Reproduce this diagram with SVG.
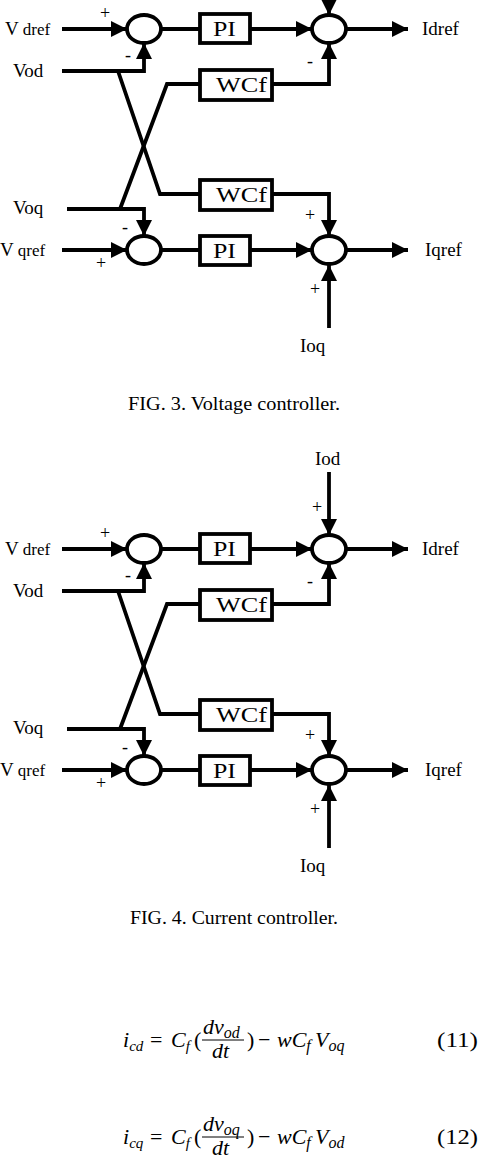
<svg xmlns="http://www.w3.org/2000/svg" width="488" height="1160" viewBox="0 0 488 1160">
<style>
.ln{fill:none;stroke:#000;stroke-width:3.8;stroke-linejoin:miter}
.ar{marker-end:url(#ah)}
.sum{fill:#fff;stroke:#000;stroke-width:3.8}
.box{fill:#fff;stroke:#000;stroke-width:3.8}
.lb{font-family:"Liberation Serif",serif;font-size:19px;fill:#000}
.bt{font-family:"Liberation Serif",serif;font-size:21px;fill:#000}
.sg{font-family:"Liberation Serif",serif;font-size:18px;fill:#000;text-anchor:middle}
.cap{font-family:"Liberation Serif",serif;font-size:18px;fill:#000}
.eq{font-family:"Liberation Serif",serif;font-size:22px;fill:#000}
.it{font-style:italic}
</style>
<defs>
<marker id="ah" markerUnits="userSpaceOnUse" markerWidth="16" markerHeight="16" refX="16" refY="8" orient="auto">
<path d="M0,0 L16,8 L0,16 z" fill="#000"/>
</marker>
</defs>

<!-- FIG 3 -->
<g id="fig3">
<g id="fig3-connectors">
<path class="ln ar" d="M62,29 H127"/>
<path class="ln" d="M161,29 H200"/>
<path class="ln ar" d="M250,29 H312"/>
<path class="ln ar" d="M346,29 H408"/>
<path class="ln ar" d="M329,-50 V15"/>
<path class="ln ar" d="M62,71 H144 V43"/>
<path class="ln" d="M118,71 L160,194 H200"/>
<path class="ln" d="M120,209 L167,84 H200"/>
<path class="ln ar" d="M272,84 H329 V43"/>
<path class="ln ar" d="M272,194 H329 V236"/>
<path class="ln ar" d="M67,209 H144 V236"/>
<path class="ln ar" d="M62,250 H127"/>
<path class="ln" d="M161,250 H200"/>
<path class="ln ar" d="M250,250 H312"/>
<path class="ln ar" d="M346,250 H408"/>
<path class="ln ar" d="M329,328 V265"/>
</g>
<g id="fig3-sum1d"><ellipse class="sum" cx="144" cy="29" rx="17" ry="14"/></g>
<g id="fig3-pid"><rect class="box" x="200" y="14" width="50" height="29"/><text class="bt" x="213" y="36" textLength="23" lengthAdjust="spacingAndGlyphs">PI</text></g>
<g id="fig3-sum2d"><ellipse class="sum" cx="329" cy="29" rx="17" ry="14"/></g>
<g id="fig3-wcf1"><rect class="box" x="200" y="70" width="72" height="30"/><text class="bt" x="216" y="92" textLength="51" lengthAdjust="spacingAndGlyphs">WCf</text></g>
<g id="fig3-wcf2"><rect class="box" x="200" y="180" width="72" height="30"/><text class="bt" x="216" y="202" textLength="51" lengthAdjust="spacingAndGlyphs">WCf</text></g>
<g id="fig3-sum1q"><ellipse class="sum" cx="144" cy="250" rx="17" ry="14"/></g>
<g id="fig3-piq"><rect class="box" x="200" y="236" width="50" height="29"/><text class="bt" x="213" y="258" textLength="23" lengthAdjust="spacingAndGlyphs">PI</text></g>
<g id="fig3-sum2q"><ellipse class="sum" cx="329" cy="250" rx="17" ry="14"/></g>
<g id="fig3-labels">
<text class="lb" x="5" y="35">V<tspan font-size="17" dx="4">dref</tspan></text>
<text class="lb" x="13" y="77">Vod</text>
<text class="lb" x="13" y="214">Voq</text>
<text class="lb" x="0" y="256">V<tspan font-size="17" dx="4">qref</tspan></text>
<text class="lb" x="422" y="35">Idref</text>
<text class="lb" x="425" y="256">Iqref</text>
<text class="lb" x="300" y="352">Ioq</text>
<text class="sg" x="105" y="19">+</text>
<text class="sg" x="128" y="61">-</text>
<text class="sg" x="310" y="67">-</text>
<text class="sg" x="310" y="221">+</text>
<text class="sg" x="125" y="233">-</text>
<text class="sg" x="101" y="269">+</text>
<text class="sg" x="315" y="295">+</text>
</g>
</g>

<text id="cap3" class="cap" x="128" y="410" textLength="212" lengthAdjust="spacingAndGlyphs">FIG. 3. Voltage controller.</text>

<!-- FIG 4 -->
<g id="fig4" transform="translate(0,520)">
<g id="fig4-connectors">
<path class="ln ar" d="M62,29 H127"/>
<path class="ln" d="M161,29 H200"/>
<path class="ln ar" d="M250,29 H312"/>
<path class="ln ar" d="M346,29 H408"/>
<path class="ln ar" d="M329,-48 V15"/>
<path class="ln ar" d="M62,71 H144 V43"/>
<path class="ln" d="M118,71 L160,194 H200"/>
<path class="ln" d="M120,209 L167,84 H200"/>
<path class="ln ar" d="M272,84 H329 V43"/>
<path class="ln ar" d="M272,194 H329 V236"/>
<path class="ln ar" d="M67,209 H144 V236"/>
<path class="ln ar" d="M62,250 H127"/>
<path class="ln" d="M161,250 H200"/>
<path class="ln ar" d="M250,250 H312"/>
<path class="ln ar" d="M346,250 H408"/>
<path class="ln ar" d="M329,328 V265"/>
</g>
<g id="fig4-sum1d"><ellipse class="sum" cx="144" cy="29" rx="17" ry="14"/></g>
<g id="fig4-pid"><rect class="box" x="200" y="14" width="50" height="29"/><text class="bt" x="213" y="36" textLength="23" lengthAdjust="spacingAndGlyphs">PI</text></g>
<g id="fig4-sum2d"><ellipse class="sum" cx="329" cy="29" rx="17" ry="14"/></g>
<g id="fig4-wcf1"><rect class="box" x="200" y="70" width="72" height="30"/><text class="bt" x="216" y="92" textLength="51" lengthAdjust="spacingAndGlyphs">WCf</text></g>
<g id="fig4-wcf2"><rect class="box" x="200" y="180" width="72" height="30"/><text class="bt" x="216" y="202" textLength="51" lengthAdjust="spacingAndGlyphs">WCf</text></g>
<g id="fig4-sum1q"><ellipse class="sum" cx="144" cy="250" rx="17" ry="14"/></g>
<g id="fig4-piq"><rect class="box" x="200" y="236" width="50" height="29"/><text class="bt" x="213" y="258" textLength="23" lengthAdjust="spacingAndGlyphs">PI</text></g>
<g id="fig4-sum2q"><ellipse class="sum" cx="329" cy="250" rx="17" ry="14"/></g>
<g id="fig4-labels">
<text class="lb" x="315" y="-55">Iod</text>
<text class="lb" x="5" y="35">V<tspan font-size="17" dx="4">dref</tspan></text>
<text class="lb" x="13" y="77">Vod</text>
<text class="lb" x="13" y="214">Voq</text>
<text class="lb" x="0" y="256">V<tspan font-size="17" dx="4">qref</tspan></text>
<text class="lb" x="422" y="35">Idref</text>
<text class="lb" x="425" y="256">Iqref</text>
<text class="lb" x="300" y="352">Ioq</text>
<text class="sg" x="317" y="-7">+</text>
<text class="sg" x="105" y="19">+</text>
<text class="sg" x="128" y="61">-</text>
<text class="sg" x="310" y="67">-</text>
<text class="sg" x="310" y="221">+</text>
<text class="sg" x="125" y="233">-</text>
<text class="sg" x="101" y="269">+</text>
<text class="sg" x="315" y="295">+</text>
</g>
</g>

<text id="cap4" class="cap" x="130" y="924" textLength="208" lengthAdjust="spacingAndGlyphs">FIG. 4. Current controller.</text>

<!-- Equation 11 -->
<g id="eq11" class="eq">
<text x="123" y="1047"><tspan class="it">i</tspan><tspan class="it" font-size="15" dy="4">cd</tspan><tspan dy="-4" x="150">=</tspan><tspan class="it" x="171">C</tspan><tspan class="it" font-size="15" dy="4">f</tspan><tspan dy="-4" x="194">(</tspan><tspan x="247">)</tspan><tspan x="258">−</tspan><tspan class="it" x="277">wC</tspan><tspan class="it" font-size="16" dy="4">f</tspan><tspan class="it" dy="-4" x="315">V</tspan><tspan class="it" font-size="16" dy="4">oq</tspan></text>
<text x="203" y="1034"><tspan class="it">dv</tspan><tspan class="it" font-size="16" dy="4">od</tspan></text>
<line x1="202" y1="1040" x2="244" y2="1040" stroke="#000" stroke-width="1"/>
<text class="it" x="212" y="1058">dt</text>
<text x="437" y="1047" textLength="41" lengthAdjust="spacingAndGlyphs">(11)</text>
</g>

<!-- Equation 12 -->
<g id="eq12" class="eq">
<text x="123" y="1144"><tspan class="it">i</tspan><tspan class="it" font-size="15" dy="4">cq</tspan><tspan dy="-4" x="150">=</tspan><tspan class="it" x="171">C</tspan><tspan class="it" font-size="15" dy="4">f</tspan><tspan dy="-4" x="194">(</tspan><tspan x="247">)</tspan><tspan x="258">−</tspan><tspan class="it" x="277">wC</tspan><tspan class="it" font-size="16" dy="4">f</tspan><tspan class="it" dy="-4" x="315">V</tspan><tspan class="it" font-size="16" dy="4">od</tspan></text>
<text x="203" y="1131"><tspan class="it">dv</tspan><tspan class="it" font-size="16" dy="4">oq</tspan></text>
<line x1="202" y1="1137" x2="244" y2="1137" stroke="#000" stroke-width="1"/>
<text class="it" x="212" y="1155">dt</text>
<text x="437" y="1144" textLength="41" lengthAdjust="spacingAndGlyphs">(12)</text>
</g>
</svg>
